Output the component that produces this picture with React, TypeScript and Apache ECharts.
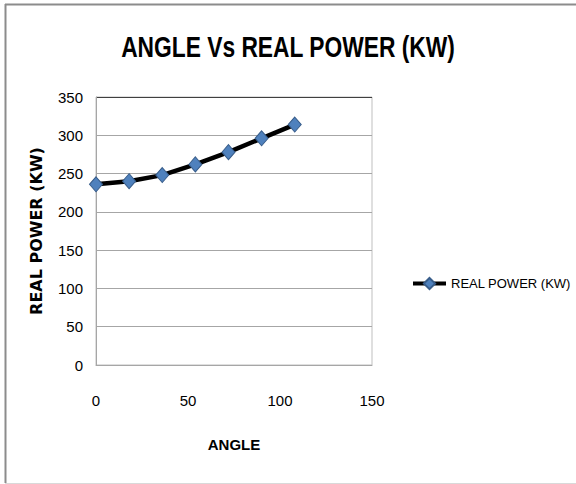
import React, { useEffect, useRef } from "react";
import * as echarts from "echarts";

const angles = [0, 18, 36, 54, 72, 90, 108];
const realPower = [236, 240, 248, 262, 278, 296, 314];
const seriesName = "REAL POWER (KW)";
const titleText = "ANGLE Vs REAL POWER (KW)";
const xName = "ANGLE";
const yName = "REAL POWER (KW)";

const SANS = "'Liberation Sans', Arial, sans-serif";

export default function App() {
  const ref = useRef<HTMLDivElement>(null);
  useEffect(() => {
    document.body.style.margin = "0";
    const chart = echarts.init(ref.current!, null, { renderer: "svg" });
    const split = ["#a6a6a6", "#a6a6a6", "#a6a6a6", "#a6a6a6", "#a6a6a6", "#a6a6a6", "#a6a6a6", "#404040"];
    chart.setOption({
      animation: false,
      backgroundColor: "#ffffff",
      graphic: [
        { type: "line", shape: { x1: 5, y1: 4.5, x2: 576, y2: 4.5 }, style: { stroke: "#8c8c8c", lineWidth: 2 } },
        { type: "line", shape: { x1: 5.5, y1: 4, x2: 5.5, y2: 483 }, style: { stroke: "#8c8c8c", lineWidth: 2 } },
        { type: "line", shape: { x1: 5, y1: 483.5, x2: 576, y2: 483.5 }, style: { stroke: "#d9d9d9", lineWidth: 1 } },
        {
          type: "text",
          x: 288,
          y: 47,
          scaleX: 0.76,
          style: {
            text: titleText,
            fontFamily: SANS,
            fontWeight: "bold",
            fontSize: 30,
            fill: "#000",
            textAlign: "center",
            textVerticalAlign: "middle",
          },
        },
      ],
      legend: {
        left: 406,
        top: 272,
        itemWidth: 33,
        itemHeight: 14,
        itemGap: 5,
        lineStyle: { color: "#000", width: 4 },
        textStyle: { fontFamily: SANS, fontSize: 13, color: "#000" },
        data: [seriesName],
      },
      grid: {
        left: 96,
        right: 204,
        top: 97,
        bottom: 119,
        show: true,
        borderColor: "#bfbfbf",
        borderWidth: 1,
      },
      xAxis: {
        type: "value",
        min: 0,
        max: 150,
        interval: 50,
        name: xName,
        nameLocation: "middle",
        nameGap: 72,
        nameTextStyle: { fontFamily: SANS, fontWeight: "bold", fontSize: 15, color: "#000" },
        axisLine: { show: true, lineStyle: { color: "#a6a6a6" } },
        axisTick: { show: false },
        splitLine: { show: false },
        axisLabel: { margin: 28, fontFamily: SANS, fontSize: 15, color: "#000" },
      },
      yAxis: {
        type: "value",
        min: 0,
        max: 350,
        interval: 50,
        name: yName,
        nameLocation: "middle",
        nameGap: 52,
        nameTextStyle: { fontFamily: "'DejaVu Sans', sans-serif", fontWeight: "bold", fontSize: 16, color: "#000" },
        axisLine: { show: true, lineStyle: { color: "#a6a6a6" } },
        axisTick: { show: false },
        splitLine: { show: true, lineStyle: { color: split, width: 1 } },
        axisLabel: { margin: 13, fontFamily: SANS, fontSize: 15, color: "#000" },
      },
      series: [
        {
          name: seriesName,
          type: "line",
          data: angles.map((a, i) => [a, realPower[i]]),
          symbol: "diamond",
          symbolSize: [13, 15],
          lineStyle: { color: "#000", width: 4.5 },
          itemStyle: { color: "#4f81bd", borderColor: "#385d8a", borderWidth: 1 },
        },
      ],
    });
    return () => chart.dispose();
  }, []);
  return <div ref={ref} style={{ width: 576, height: 484 }} />;
}
